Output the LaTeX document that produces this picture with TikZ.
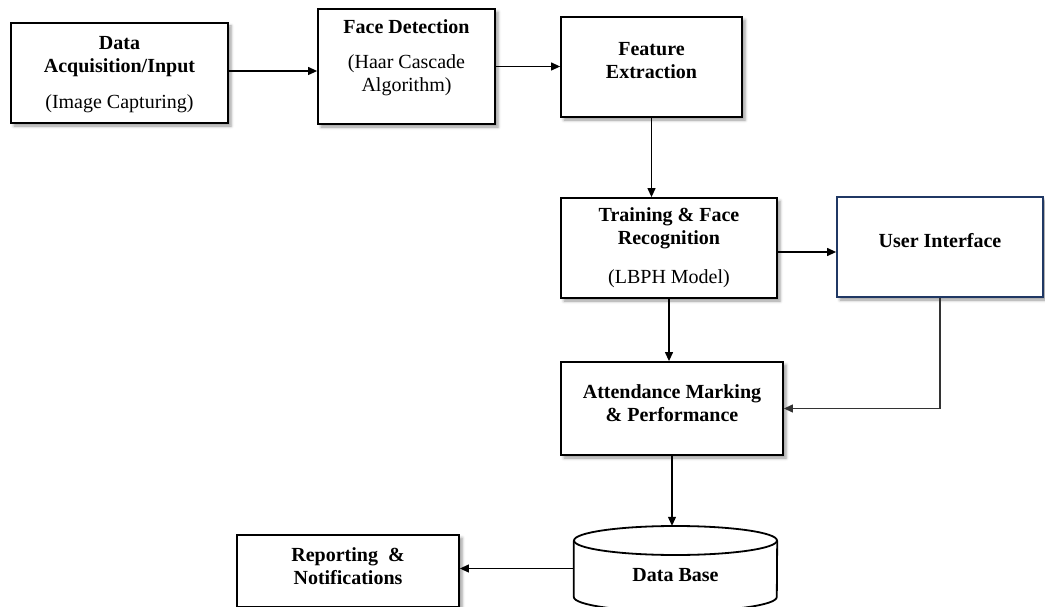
\documentclass[tikz,border=0pt]{standalone}
\usepackage{fontspec}
\setmainfont{Liberation Serif}
\usetikzlibrary{arrows.meta,shadows.blur,calc}
\definecolor{uiblue}{RGB}{32,56,100}
\begin{document}
\begin{tikzpicture}[x=1pt,y=-1pt,
  block/.style={draw, line width=1.8pt, fill=white, inner sep=0pt,
    blur shadow={shadow xshift=3pt, shadow yshift=-3pt,
                 shadow blur radius=3pt, shadow opacity=40}},
  lbl/.style={font=\fontsize{20}{23}\selectfont\bfseries, align=center, inner sep=0pt},
  link/.style={line width=1.2pt, -{Triangle[length=9pt,width=8pt]}}]
\useasboundingbox (0,0) rectangle (1045,607);

% process boxes
\node[block, minimum width=217pt, minimum height=100pt] (acq) at (119.5,73) {};
\node[lbl] (acq-t) at (119.5,75) {Data\\Acquisition/Input\\[13pt]\mdseries(Image Capturing)};

\node[block, minimum width=177pt, minimum height=115pt] (det) at (406.5,66.5) {};
\node[lbl] (det-t) at (406.5,58) {Face Detection\\[12pt]\mdseries(Haar Cascade\\\mdseries Algorithm)};

\node[block, minimum width=181pt, minimum height=100pt] (feat) at (651.5,67) {};
\node[lbl] (feat-t) at (651.5,61) {Feature\\Extraction};

\node[block, minimum width=216pt, minimum height=100pt] (train) at (669,248) {};
\node[lbl] (train-t) at (669,248) {Training \& Face\\Recognition\\[16pt]\mdseries(LBPH Model)};

\node[block, draw=uiblue, minimum width=206pt, minimum height=100pt] (ui) at (940,247) {};
\node[lbl] (ui-t) at (940,241) {User Interface};

\node[block, minimum width=222pt, minimum height=93pt] (att) at (672,408.5) {};
\node[lbl] (att-t) at (672,403) {Attendance Marking\\\& Performance};

\node[block, minimum width=222pt, minimum height=72pt] (rep) at (348,571) {};
\node[lbl] (rep-t) at (348,566) {Reporting\ \ \&\\Notifications};

% database cylinder
\node[minimum width=203pt, minimum height=85pt, inner sep=0pt] (db) at (675.5,568.5) {};
\draw[line width=1.8pt, fill=white]
  (db.west |- 0,540.5) -- (db.west |- 0,597)
  arc[start angle=180, end angle=0, x radius=101.5, y radius=14.5]
  -- (db.east |- 0,540.5);
\draw[line width=1.8pt, fill=white] (675.5,540.5) ellipse [x radius=101.5, y radius=14.5];
\node[lbl] (db-t) at (675.5,575) {Data Base};

% connectors
\draw[link] ([yshift=2pt]acq.east) -- ([yshift=2pt]acq.east -| det.west);
\draw[link] (det.east) -- (det.east -| feat.west);
\draw[link] (feat.south) -- (feat.south |- train.north);
\draw[link] ([yshift=-4pt]train.east) -- ([yshift=-4pt]train.east -| ui.west);
\draw[link] (train.south) -- (train.south |- att.north);
\draw[link, draw=black!80] (ui.south) |- (att.east);
\draw[link] (att.south) -- (att.south |- db.north);
\draw[link] (db.west) -- (db.west -| rep.east);
\end{tikzpicture}
\end{document}
